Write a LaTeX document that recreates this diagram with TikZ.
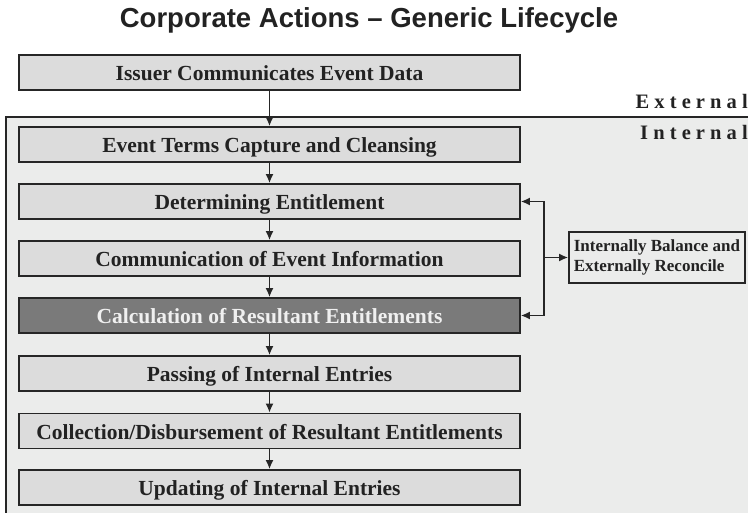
\documentclass[tikz,border=0pt]{standalone}
\usepackage{fontspec}
\setmainfont{Liberation Serif}
\newfontfamily\titlefont{Liberation Sans}
\newfontfamily\spacedfont{Liberation Serif}[LetterSpace=25]
\usetikzlibrary{arrows.meta}
\definecolor{boxfill}{HTML}{DCDCDC}
\definecolor{regionfill}{HTML}{EBECEB}
\definecolor{darkfill}{HTML}{7A7A7A}
\definecolor{linec}{HTML}{262626}
\definecolor{textc}{HTML}{222222}
\begin{document}
\begin{tikzpicture}[x=1pt,y=-1pt,
  stagebox/.style={draw=linec, line width=1.6pt, fill=boxfill, minimum width=501pt, minimum height=35pt, inner sep=0pt,
     text height=16pt, text depth=0pt,
     font=\fontsize{21.5}{24}\selectfont\bfseries, text=textc},
  darkbox/.style={stagebox, fill=darkfill, text=white!94!black},
  sidebox/.style={draw=linec, line width=1.6pt, fill=regionfill, minimum width=176pt, minimum height=51pt, inner sep=0pt,
     align=left, font=\fontsize{17}{20}\selectfont\bfseries, text=textc},
  zonelabel/.style={anchor=base east, inner sep=0pt, font=\fontsize{20.5}{22}\spacedfont\bfseries, text=textc},
  arr/.style={draw=linec, line width=1.8pt, -{Latex[length=9pt,width=8pt]}},
  arrboth/.style={draw=linec, line width=1.8pt, {Latex[length=9pt,width=8pt]}-{Latex[length=9pt,width=8pt]}}
]
\useasboundingbox (0,0) rectangle (748,513);
% internal region
\fill[regionfill] (6,117) rectangle (748,513);
\draw[linec, line width=1.6pt] (6,513) -- (6,117) -- (748,117);
% title
\node[anchor=base, inner sep=0pt, font=\fontsize{27.5}{32}\titlefont\bfseries, text=textc] (title) at (369,28) {Corporate Actions – Generic Lifecycle};
% zone labels
\node[zonelabel] (ext) at (748,109) {External};
\node[zonelabel] (int) at (748,140) {Internal};
% stages
\node[stagebox] (b1) at (269.5,72.5) {Issuer Communicates Event Data};
\node[stagebox] (b2) at (269.5,144.5) {Event Terms Capture and Cleansing};
\node[stagebox] (b3) at (269.5,201.5) {Determining Entitlement};
\node[stagebox] (b4) at (269.5,258.5) {Communication of Event Information};
\node[darkbox]  (b5) at (269.5,315.5) {Calculation of Resultant Entitlements};
\node[stagebox] (b6) at (269.5,373.5) {Passing of Internal Entries};
\node[stagebox] (b7) at (269.5,431) {Collection/Disbursement of Resultant Entitlements};
\node[stagebox] (b8) at (269.5,487.5) {Updating of Internal Entries};
\node[sidebox] (side) at (657,257.5) {Internally Balance and\\Externally Reconcile};
% flow arrows
\draw[arr] (b1) -- (b2);
\draw[arr] (b2) -- (b3);
\draw[arr] (b3) -- (b4);
\draw[arr] (b4) -- (b5);
\draw[arr] (b5) -- (b6);
\draw[arr] (b6) -- (b7);
\draw[arr] (b7) -- (b8);
% feedback loop
\coordinate (v) at (544,0);
\draw[arrboth] (b3.east) -- (v |- b3.east) -- (v |- b5.east) -- (b5.east);
\draw[arr] (v |- side.west) -- (side.west);
\end{tikzpicture}
\end{document}
